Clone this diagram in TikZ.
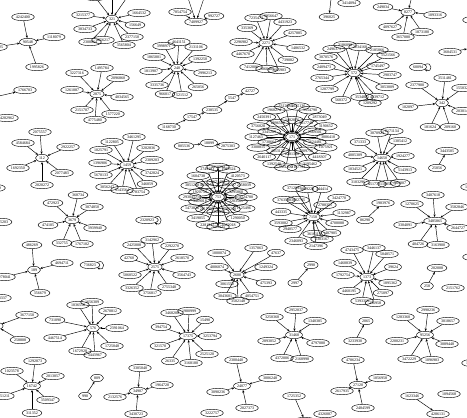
\documentclass[tikz,border=0pt]{standalone}
\usepackage{fontspec}
\setmainfont{Liberation Serif}
\usetikzlibrary{shapes.geometric, arrows.meta}

\begin{document}
\begin{tikzpicture}[x=1pt, y=-1pt,
    v/.style={ellipse, draw, line width=0.45pt, font=\fontsize{4}{4}\selectfont, inner xsep=1pt, inner ysep=0.3pt, minimum width=13pt, minimum height=7.5pt},
    arr/.style={-{Stealth[length=2.6pt, width=2.2pt]}, line width=0.45pt}]
    \useasboundingbox[fill=white] (0,0) rectangle (467,418);

    % top row
    \node[v] (s90548) at (28,42) {90548};
    \foreach \x/\y/\t [count=\i] in {23/17/4242400, 54/37/1118079, 37/67/1995826, -4/47/3692525}
        {\node[v] (s90548-\i) at (\x,\y) {\t}; \draw[arr] (s90548-\i) -- (s90548);}
    \node[v] (s321) at (112,19) {321};
    \foreach \x/\y/\t [count=\i] in {83/15/3215377, 85/29/3834733, 90/42/2308064, 103/40/3856217, 124/45/3565804, 132/37/2377150, 135/25/156649, 139/13/1664532, 95/-3/1130482, 112/-6/2267419, 128/-4/4405931}
        {\node[v] (s321-\i) at (\x,\y) {\t}; \draw[arr] (s321-\i) -- (s321);}
    \node[v] (s7409927) at (196,22) {7409927};
    \foreach \x/\y/\t [count=\i] in {180/12/7854754, 214/16/992727, 186/-8/3317642, 206/-8/2419055}
        {\node[v] (s7409927-\i) at (\x,\y) {\t}; \draw[arr] (s7409927-\i) -- (s7409927);}
    \node[v] (s2271) at (266,43) {2271};
    \foreach \x/\y/\t [count=\i] in {256/18/7235472, 271/16/3956647, 285/22/4431923, 247/28/335369, 295/33/4257885, 241/42/2296982, 298/48/1486532, 243/54/4467670, 288/60/739082, 251/67/7412006, 267/69/1060405, 279/70/3665903}
        {\node[v] (s2271-\i) at (\x,\y) {\t}; \draw[arr] (s2271-\i) -- (s2271);}
    \node[v] (t396025) at (329,17) {396025};
    \coordinate (t396top) at (331,-1);
    \draw[arr] (t396top) -- (t396025);
    \node[v] (t1846302) at (300,-4) {1846302};
    \node[v] (t3414094) at (349,3) {3414094};
    \node[v] (s8277) at (408,12) {8277};
    \foreach \x/\y/\t [count=\i] in {383/7/249034, 435/15/1093316, 390/27/4097627, 422/32/1873180, 403/37/3657080, 413/-8/3941027}
        {\node[v] (s8277-\i) at (\x,\y) {\t}; \draw[arr] (s8277-\i) -- (s8277);}
    \node[v] (r4130275) at (474,20) {4130275};

    % second band
    \node[v] (s2875) at (97,94) {2875};
    \foreach \x/\y/\t [count=\i] in {102/68/1495784, 77/73/3227316, 118/78/2096860, 72/90/1261087, 122/97/4034565, 82/110/2151707, 113/114/1577220, 95/120/4775480}
        {\node[v] (s2875-\i) at (\x,\y) {\t}; \draw[arr] (s2875-\i) -- (s2875);}
    \node[v] (l1766703) at (25,90) {1766703};
    \coordinate (l1766left) at (-1,96);
    \draw[arr] (l1766left) -- (l1766703);
    \node[v] (l4282962) at (7,118) {4282962};
    \node[v] (s240) at (177,68) {240};
    \foreach \x/\y/\t [count=\i] in {179/42/4641151, 164/46/3998971, 196/47/2131106, 154/57/1865001, 200/59/1392250, 151/71/1813907, 205/73/2996213, 157/85/3335736, 198/87/265056, 165/94/966017, 182/95/521512}
        {\node[v] (s240-\i) at (\x,\y) {\t}; \draw[arr] (s240-\i) -- (s240);}
    \node[v] (c1168730) at (169,127) {1168730};
    \node[v] (c17547) at (192,117) {17547};
    \node[v] (c238535) at (212,110) {238535};
    \node[v] (c5547) at (232,98) {5547};
    \node[v] (c42727) at (250,91) {42727};
    \draw[arr] (c1168730) -- (c17547);
    \draw[arr] (c17547) -- (c238535);
    \draw[arr] (c238535) -- (c5547);
    \draw[arr] (c5547) -- (c42727);
    \node[v] (s572) at (354,73) {572};
    \foreach \x/\y/\t [count=\i] in {334/49/2496371, 326/57/3070576, 324/67/2409473, 322/78/2765344, 327/89/1207799, 341/100/560372, 345/45/3186096, 360/47/3234168, 377/50/2185066, 388/55/1521566, 378/66/1745497, 390/75/2903747, 387/87/3053009, 377/97/4339712, 362/97/3534871, 370/103/1209292}
        {\node[v] (s572-\i) at (\x,\y) {\t}; \draw[arr] (s572-\i) -- (s572);}
    \node[v] (r3604531) at (450,52) {3604531};
    \coordinate (r3604end) at (467,49);
    \draw[arr] (r3604531) -- (r3604end);
    \node[v] (l60094) at (418,67) {60094};
    \draw[arr] (l60094.20) .. controls +(8,-4) and +(8,4) .. (l60094.-20);
    \node[v] (s342) at (442,103) {342};
    \foreach \x/\y/\t [count=\i] in {445/78/3511481, 417/85/2377900, 463/88/1550326, 408/107/102097, 463/111/2030145, 430/127/181624, 450/127/209160}
        {\node[v] (s342-\i) at (\x,\y) {\t}; \draw[arr] (s342-\i) -- (s342);}

    % big stars
    \node[v] (s171) at (292,137) {171};
    \foreach \a/\t [count=\i] in {0/3006418, 20/1075921, 40/4418307, 60/3195462, 80/2107754, 100/3581209, 120/1392540, 140/2640117, 160/3308815, 180/1127463, 200/3756028, 220/2450391, 240/1968274, 260/3312085, 280/4025136, 300/1554790, 320/2873049, 340/3190652}
        {\node[v] (s171o\i) at ({292+36*cos(\a)},{137+31*sin(\a)}) {\t}; \draw[arr] (s171o\i) -- (s171);}
    \foreach \a/\t [count=\i] in {18/3624481, 54/1209756, 90/2281390, 126/4053127, 162/1730664, 198/3345209, 234/2896513, 270/1482076, 306/3017748, 342/2569301}
        {\node[v] (s171i\i) at ({292+24*cos(\a)},{137+17*sin(\a)}) {\t}; \draw[arr] (s171i\i) -- (s171);}
    \node[v] (s753) at (218,197) {753};
    \foreach \a/\t [count=\i] in {0/3124780, 22.5/1125496, 45/1290050, 67.5/3562018, 90/7603421, 112.5/2281947, 135/3419055, 157.5/1473826, 180/2930417, 202.5/3851260, 225/1604738, 247.5/2749183, 270/3310592, 292.5/1987624, 315/4120573, 337.5/2558039}
        {\node[v] (s753o\i) at ({218+28*cos(\a)},{197+30*sin(\a)}) {\t}; \draw[arr] (s753o\i) -- (s753);}
    \foreach \a/\t [count=\i] in {18/2203561, 54/3781240, 90/1356892, 126/2817405, 162/3469018, 198/1920734, 234/4038156, 270/2671493, 306/1538207, 342/3295860}
        {\node[v] (s753i\i) at ({218+19*cos(\a)},{197+15*sin(\a)}) {\t}; \draw[arr] (s753i\i) -- (s753);}
    \node[v] (s7150) at (313,217) {7150};
    \foreach \x/\y/\t [count=\i] in {294/188/3712091, 307/189/3049220, 322/189/344414, 284/200/3763588, 298/200/3082705, 339/198/3424770, 325/205/2788351, 344/213/1132987, 281/212/443335, 281/223/3593082, 337/223/4708088, 290/229/2940577, 331/233/487905, 314/234/3616119, 322/239/1303167, 296/241/2346093, 316/246/2147396}
        {\node[v] (s7150-\i) at (\x,\y) {\t}; \draw[arr] (s7150-\i) -- (s7150);}

    % middle left
    \node[v] (s1459) at (127,165) {1459};
    \foreach \x/\y/\t [count=\i] in {134/137/3461295, 112/142/1122805, 148/148/3202836, 101/150/1025791, 152/160/2309203, 100/163/1396906, 152/173/3742824, 101/175/5670133, 147/184/346059, 107/187/3056247, 138/192/2783754, 122/190/3143564}
        {\node[v] (s1459-\i) at (\x,\y) {\t}; \draw[arr] (s1459-\i) -- (s1459);}
    \node[v] (c805536) at (184,146) {805536};
    \node[v] (c18899) at (209,143) {18899};
    \node[v] (c2875303) at (228,146) {2875303};
    \draw[arr] (c805536) -- (c18899);
    \draw[arr] (c2875303) -- (c18899);
    \node[v] (s112) at (42,158) {112};
    \foreach \x/\y/\t [count=\i] in {40/132/2075557, 23/143/4584684, 68/147/2922257, 18/168/1692350, 62/173/2077483, 42/185/2020272}
        {\node[v] (s112-\i) at (\x,\y) {\t}; \draw[arr] (s112-\i) -- (s112);}
    \node[v] (l4153069) at (-6,188) {4153069};
    \node[v] (s3679) at (72,220) {3679};
    \foreach \x/\y/\t [count=\i] in {78/195/368734, 53/203/472923, 92/207/3074850, 48/225/474105, 95/228/3939940, 62/243/332755, 82/244/1767102}
        {\node[v] (s3679-\i) at (\x,\y) {\t}; \draw[arr] (s3679-\i) -- (s3679);}
    \node[v] (l305203) at (2,222) {305203};
    \node[v] (s189) at (34,270) {189};
    \foreach \x/\y/\t [count=\i] in {32/245/486269, 62/263/4694711, 4/277/1278041, 40/293/356679}
        {\node[v] (s189-\i) at (\x,\y) {\t}; \draw[arr] (s189-\i) -- (s189);}
    \node[v] (l736823) at (90,265) {736823};
    \draw[arr] (l736823.20) .. controls +(8,-4) and +(8,4) .. (l736823.-20);
    \node[v] (l2320923) at (147,220) {2320923};
    \draw[arr] (l2320923.20) .. controls +(8,-4) and +(8,4) .. (l2320923.-20);

    % middle right
    \node[v] (s14650) at (382,158) {14650};
    \foreach \x/\y/\t [count=\i] in {377/133/3070923, 392/131/2171134, 400/141/1305412, 360/142/371333, 403/156/1924277, 355/155/4005309, 405/170/5143913, 355/169/1034521, 400/183/965007, 358/182/3103296, 375/184/4517781, 389/184/1805671}
        {\node[v] (s14650-\i) at (\x,\y) {\t}; \draw[arr] (s14650-\i) -- (s14650);}
    \node[v] (p3443505) at (447,151) {3443505};
    \node[v] (p25056) at (437,168) {25056};
    \draw[arr] (p25056) -- (p3443505);
    \node[v] (r1539608) at (472,187) {1539608};
    \node[v] (p1983976) at (383,203) {1983976};
    \node[v] (p86290) at (365,220) {86290};
    \draw[arr] (p86290) -- (p1983976);
    \node[v] (s3485865) at (435,221) {3485865};
    \foreach \x/\y/\t [count=\i] in {433/195/3407618, 412/204/1270625, 457/207/3582846, 405/225/3304091, 458/228/2644727, 418/244/404726, 438/245/3163900}
        {\node[v] (s3485865-\i) at (\x,\y) {\t}; \draw[arr] (s3485865-\i) -- (s3485865);}
    \node[v] (r2203815) at (474,257) {2203815};

    % lower band
    \node[v] (s2575) at (155,267) {2575};
    \foreach \x/\y/\t [count=\i] in {152/240/3142962, 134/245/2425008, 172/246/2292270, 129/258/42760, 182/258/2618570, 130/275/5060522, 184/275/3564743, 132/288/3326352, 150/293/3756817, 169/287/2755348}
        {\node[v] (s2575-\i) at (\x,\y) {\t}; \draw[arr] (s2575-\i) -- (s2575);}
    \node[v] (s2600) at (237,275) {2600};
    \foreach \x/\y/\t [count=\i] in {256/248/1357063, 276/253/47637, 266/267/1249324, 266/283/475393, 252/296/4054751, 238/301/3502148, 225/296/3043601, 227/284/3061552, 217/267/4006074, 219/253/1000074}
        {\node[v] (s2600-\i) at (\x,\y) {\t}; \draw[arr] (s2600-\i) -- (s2600);}
    \node[v] (p2998) at (311,265) {2998};
    \node[v] (p2997) at (295,283) {2997};
    \draw[arr] (p2997) -- (p2998);
    \node[v] (s1373) at (367,277) {1373};
    \foreach \x/\y/\t [count=\i] in {352/250/4743475, 374/248/3446137, 387/254/5048571, 393/267/39624, 345/263/1460839, 343/275/1792754, 390/283/1895362, 383/293/275097, 362/301/5393355, 375/303/236958, 349/291/4460195}
        {\node[v] (s1373-\i) at (\x,\y) {\t}; \draw[arr] (s1373-\i) -- (s1373);}
    \node[v] (p202008) at (437,268) {202008};
    \node[v] (p258) at (427,286) {258};
    \draw[arr] (p258) -- (p202008);
    \node[v] (p2151762) at (453,288) {2151762};
    \node[v] (s576) at (93,328) {576};
    \foreach \x/\y/\t [count=\i] in {78/305/1036558, 92/302/1656309, 110/311/2670812, 55/320/731090, 117/328/2391064, 55/338/4467514, 112/346/1725048, 80/351/1672928, 95/355/3443967}
        {\node[v] (s576-\i) at (\x,\y) {\t}; \draw[arr] (s576-\i) -- (s576);}
    \node[v] (s1402) at (-4,326) {1402};
    \foreach \x/\y/\t [count=\i] in {27/315/3677150, 20/340/258808}
        {\node[v] (s1402-\i) at (\x,\y) {\t}; \draw[arr] (s1402-\i) -- (s1402);}
    \node[v] (l2153337) at (0,298) {2153337};
    \node[v] (s17375) at (188,336) {17375};
    \foreach \x/\y/\t [count=\i] in {172/313/3468208, 189/311/1980999, 205/320/15490, 161/327/394754, 210/336/3253794, 160/346/321570, 207/354/2525120, 170/361/26335, 191/363/3168180}
        {\node[v] (s17375-\i) at (\x,\y) {\t}; \draw[arr] (s17375-\i) -- (s17375);}
    \node[v] (s31460) at (294,335) {31460};
    \foreach \x/\y/\t [count=\i] in {296/310/2952037, 272/317/3250368, 315/321/1340385, 269/341/2893052, 318/343/4797080, 282/358/4372006, 302/359/2168998}
        {\node[v] (s31460-\i) at (\x,\y) {\t}; \draw[arr] (s31460-\i) -- (s31460);}
    \node[v] (s95256) at (425,335) {95256};
    \foreach \x/\y/\t [count=\i] in {428/310/2998236, 403/317/1283360, 448/321/3018657, 397/341/2200231, 447/344/3089448, 409/359/3472229, 432/360/1096983}
        {\node[v] (s95256-\i) at (\x,\y) {\t}; \draw[arr] (s95256-\i) -- (s95256);}
    \node[v] (p2065) at (366,321) {2065};
    \node[v] (p3233930) at (355,341) {3233930};
    \draw[arr] (p3233930) -- (p2065);
    \node[v] (r1315087) at (473,363) {1315087};

    % bottom band
    \node[v] (s16742) at (32,386) {16742};
    \foreach \x/\y/\t [count=\i] in {35/361/1292873, 12/371/1023578, 53/376/2013057, 3/396/3151211, 48/400/3509347, 32/413/311352}
        {\node[v] (s16742-\i) at (\x,\y) {\t}; \draw[arr] (s16742-\i) -- (s16742);}
    \node[v] (p809) at (97,378) {809};
    \node[v] (p990) at (85,396) {990};
    \draw[arr] (p990) -- (p809);
    \node[v] (s34907) at (138,391) {34907};
    \foreach \x/\y/\t [count=\i] in {140/368/3305040, 162/385/1964720, 136/414/3430723, 115/397/2132576}
        {\node[v] (s34907-\i) at (\x,\y) {\t}; \draw[arr] (s34907-\i) -- (s34907);}
    \node[v] (p3222757) at (212,413) {3222757};
    \node[v] (s24077) at (242,386) {24077};
    \foreach \x/\y/\t [count=\i] in {236/360/2300440, 270/378/3006248, 247/408/2027373, 218/392/3090236}
        {\node[v] (s24077-\i) at (\x,\y) {\t}; \draw[arr] (s24077-\i) -- (s24077);}
    \node[v] (p1725352) at (294,396) {1725352};
    \node[v] (p2906415) at (305,421) {2906415};
    \draw[arr] (p1725352) -- (p2906415);
    \node[v] (p4326087) at (325,414) {4326087};
    \node[v] (s27120) at (358,385) {27120};
    \foreach \x/\y/\t [count=\i] in {353/360/4786234, 380/378/1056958, 363/408/2484599, 342/391/2617935}
        {\node[v] (s27120-\i) at (\x,\y) {\t}; \draw[arr] (s27120-\i) -- (s27120);}
    \node[v] (p1623346) at (412,396) {1623346};
    \node[v] (p4286131) at (438,414) {4286131};
    \draw[arr] (p1623346) -- (p4286131);
    \node[v] (p1094568) at (449,394) {1094568};
\end{tikzpicture}
\end{document}
